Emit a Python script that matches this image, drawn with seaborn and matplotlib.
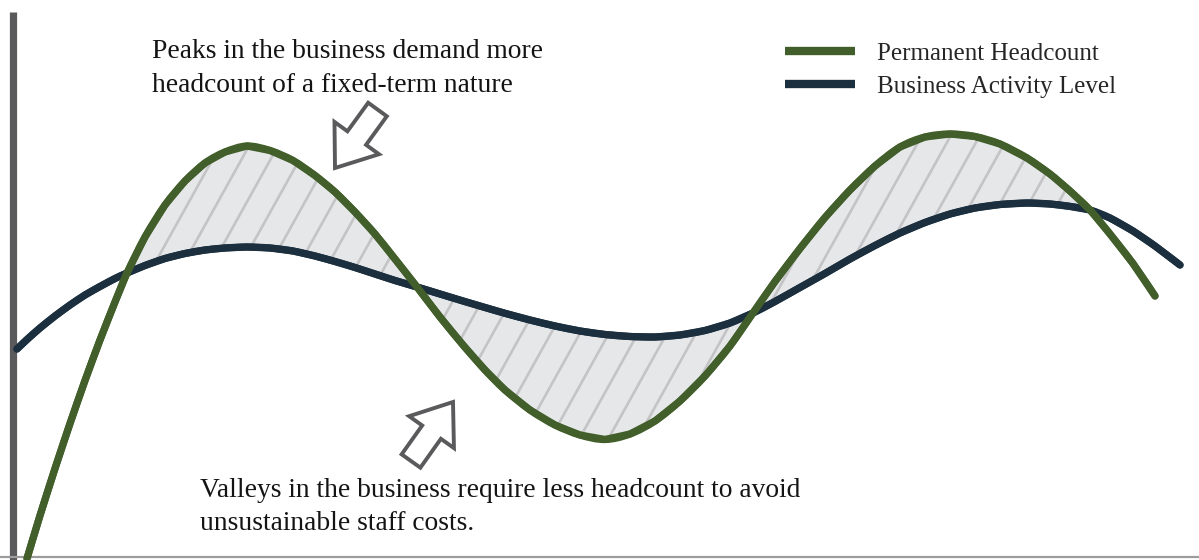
import numpy as np
import matplotlib
matplotlib.use('Agg')
import matplotlib.pyplot as plt
import seaborn as sns
from matplotlib.path import Path
from matplotlib.patches import FancyArrow, PathPatch
from matplotlib.lines import Line2D

# time position and level (pixels from the top)
period = [17, 27, 40, 55, 70, 85, 100, 115, 127, 145, 165, 185, 205, 225, 247,
          270, 293, 315, 335, 355, 375, 395, 417, 440, 463, 485, 505, 530, 555,
          580, 605, 630, 655, 680, 705, 730, 753, 775, 800, 825, 850, 875, 900,
          925, 950, 975, 1000, 1027, 1050, 1070, 1090, 1110, 1133, 1155, 1180]

headcount_px = [None, 558.5, 515.5, 468.5, 423.5, 380.5, 340, 302, 273, 237, 205,
                181, 163, 152, 146, 150.5, 160.5, 175.5, 192, 212, 234, 259, 287,
                317, 345, 370, 390, 410, 425, 435, 439.5, 434, 421, 401, 376, 346,
                313, 281.5, 248.5, 217.5, 190, 166, 147, 137, 134, 136.5, 144, 158,
                174, 191, 210, 234, 263.5, 296, None]

activity_px = [349, 339.5, 328, 316, 305, 295, 286.5, 278.5, 273, 265.5, 258.5,
               253.5, 250, 248, 247, 248, 251, 256, 261.5, 267.5, 274, 280.5, 287,
               294, 301, 307.5, 313.3, 320, 326, 331, 334.5, 336.5, 337, 335, 330.5,
               323, 313, 301.5, 287.5, 273.5, 259, 245.5, 233, 222.5, 214, 208,
               204.5, 203, 204, 206.4, 210, 218, 231, 246, 265]

# shading runs between the first and last crossing of the two curves
shade_from, shade_to = 127, 1090

series_names = ['Permanent Headcount', 'Business Activity Level']
peak_note = 'Peaks in the business demand more\nheadcount of a fixed-term nature'
valley_note = 'Valleys in the business require less headcount to avoid\nunsustainable staff costs.'

GREEN = '#425f2b'
NAVY = '#1b2f3e'
GREY = '#5a5a5c'

W, H = 1199, 560
x = np.array(period, dtype=float)
headcount = np.array([np.nan if v is None else H - v for v in headcount_px], dtype=float)
activity = np.array([H - v for v in activity_px], dtype=float)


def smooth_segments(xs, ys):
    # catmull-rom through the points, as cubic bezier segments
    pts = np.column_stack([xs, ys])
    n = len(pts)
    verts, codes = [], []
    for i in range(n - 1):
        p0 = pts[max(i - 1, 0)]
        p1 = pts[i]
        p2 = pts[i + 1]
        p3 = pts[min(i + 2, n - 1)]
        verts += [p1 + (p2 - p0) / 6, p2 - (p3 - p1) / 6, p2]
        codes += [Path.CURVE4] * 3
    return pts, verts, codes


def curve_path(xs, ys):
    pts, verts, codes = smooth_segments(xs, ys)
    return Path([pts[0]] + verts, [Path.MOVETO] + codes)


sns.set_style('white')
plt.rcParams['font.family'] = ['Liberation Serif', 'DejaVu Serif']

fig = plt.figure(figsize=(W / 100, H / 100), dpi=100)
ax = fig.add_axes([0, 0, 1, 1])
ax.set_xlim(0, W)
ax.set_ylim(0, H)

# shaded gap between the two curves
sel = (x >= shade_from) & (x <= shade_to)
top_pts, top_v, top_c = smooth_segments(x[sel], headcount[sel])
bot_pts, bot_v, bot_c = smooth_segments(x[sel][::-1], activity[sel][::-1])
gap_path = Path([top_pts[0]] + top_v + [bot_pts[0]] + bot_v + [top_pts[0]],
                [Path.MOVETO] + top_c + [Path.LINETO] + bot_c + [Path.CLOSEPOLY])
gap = PathPatch(gap_path, fc='#e6e7e9', ec='none', transform=ax.transData, zorder=1)
ax.add_patch(gap)

slope = 1.8
for x0 in np.arange(-300, W + 300, 29):
    hl, = ax.plot([x0, x0 + H / slope], [0, H], color='#c4c4c6', lw=1.9,
                  solid_capstyle='butt', zorder=2)
    hl.set_clip_path(gap)

ok = ~np.isnan(headcount)
sns.lineplot(x=x[ok], y=headcount[ok], color=GREEN, lw=5.2, estimator=None,
             sort=False, solid_capstyle='round', ax=ax, zorder=4)
sns.lineplot(x=x, y=activity, color=NAVY, lw=5.2, estimator=None, sort=False,
             solid_capstyle='round', ax=ax, zorder=3)
ax.add_patch(PathPatch(curve_path(x[ok], headcount[ok]), fc='none', ec=GREEN,
                       lw=5.2, capstyle='round', joinstyle='round', zorder=4.5))
ax.add_patch(PathPatch(curve_path(x, activity), fc='none', ec=NAVY,
                       lw=5.2, capstyle='round', joinstyle='round', zorder=3.5))

# hollow block arrows
for (x0, y0, dx, dy) in [(377.5, H - 109.5, -42.5, -58.5), (411, H - 461, 42, 59)]:
    ax.add_patch(FancyArrow(x0, y0, dx, dy, width=23, head_width=55, head_length=37,
                            length_includes_head=True, fill=False, ec=GREY, lw=2.8,
                            joinstyle='miter', zorder=5))

ax.text(152, H - 92, peak_note, fontsize=19.8, color='#141414', va='baseline',
        linespacing=1.48)
ax.text(200, H - 530, valley_note, fontsize=19.8, color='#141414', va='baseline',
        linespacing=1.44)

handles = [Line2D([], [], color=GREEN, lw=6, solid_capstyle='butt'),
           Line2D([], [], color=NAVY, lw=6, solid_capstyle='butt')]
ax.legend(handles, series_names, loc='upper left', bbox_to_anchor=(785, H - 42),
          bbox_transform=ax.transData, frameon=False, fontsize=18,
          handlelength=2.8, handletextpad=0.88, labelspacing=0.42,
          borderpad=0, borderaxespad=0)

sns.despine(ax=ax, top=True, right=True)
ax.spines['left'].set_position(('data', 12.5))
ax.spines['left'].set_bounds(0, H - 12)
ax.spines['left'].set_linewidth(5.2)
ax.spines['left'].set_color(GREY)
ax.spines['left'].set_capstyle('butt')
ax.spines['bottom'].set_position(('data', 3))
ax.spines['bottom'].set_linewidth(1.6)
ax.spines['bottom'].set_color('#9c9c9c')
ax.set_xticks([])
ax.set_yticks([])
ax.patch.set_alpha(0)

fig.savefig('out.png', dpi=100, facecolor='white')
